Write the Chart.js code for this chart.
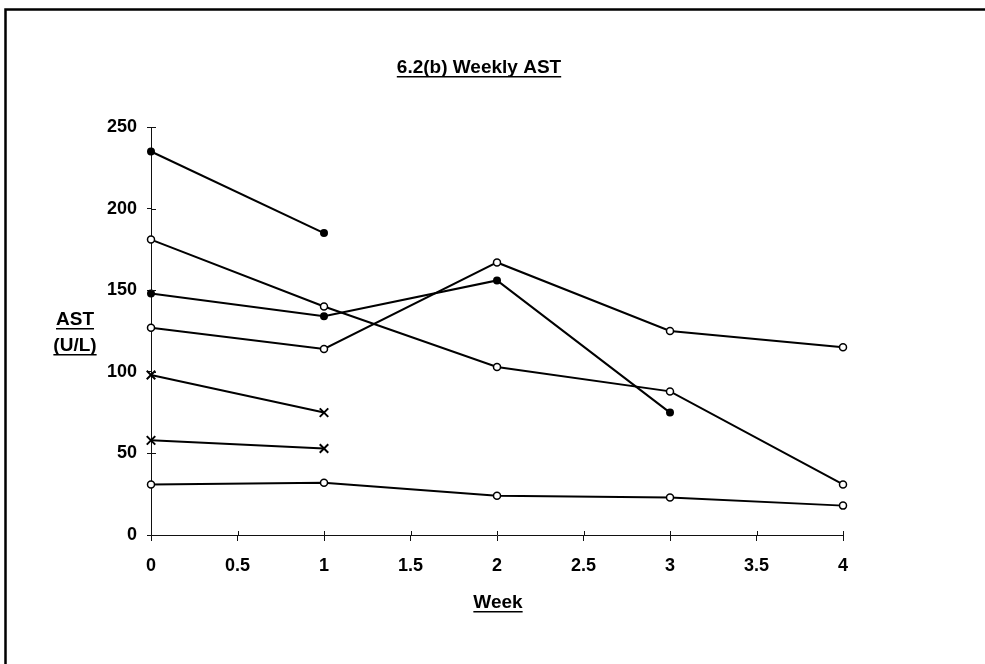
<!DOCTYPE html>
<html>
<head>
<meta charset="utf-8">
<script src="https://cdn.jsdelivr.net/npm/chart.js@4.4.1/dist/chart.umd.min.js"></script>
<style>
  html, body { margin: 0; padding: 0; background: #fff; }
  #wrap { width: 985px; height: 664px; position: relative; }
</style>
</head>
<body>
<div id="wrap"><canvas id="astChart"></canvas></div>
<script>
// Weeks on the x axis
const weeks = [0, 1, 2, 3, 4];

// One array per subject, null where no sample was taken
const subjA = [235, 185, null, null, null];
const subjB = [181, 140, 103, 88, 31];
const subjC = [148, 134, 156, 75, null];
const subjD = [127, 114, 167, 125, 115];
const subjE = [98, 75, null, null, null];
const subjF = [58, 53, null, null, null];
const subjG = [31, 32, 24, 23, 18];

const yTicks = [0, 50, 100, 150, 200, 250];
const xTicks = [0, 0.5, 1, 1.5, 2, 2.5, 3, 3.5, 4];

const FONT = '"Liberation Sans", Arial, sans-serif';

function toPoints(values) {
    return weeks
        .map((w, i) => ({ x: w, y: values[i] }))
        .filter(p => p.y !== null);
}

function series(values, style) {
    const open = style === 'open';
    const cross = style === 'cross';
    return {
        data: toPoints(values),
        showLine: true,
        clip: false,
        borderColor: '#000',
        borderWidth: 2,
        pointStyle: cross ? 'crossRot' : 'circle',
        pointRadius: open ? 3.5 : (cross ? 6 : 3),
        pointBorderWidth: open ? 1.5 : 2,
        pointBackgroundColor: open ? '#fff' : '#000',
        pointBorderColor: '#000',
    };
}

// Frame, titles and the inner half of the tick marks
const decorations = {
    id: 'decorations',
    afterDraw(chart) {
        const c = chart.ctx;
        const xs = chart.scales.x;
        const ys = chart.scales.y;
        c.save();

        // outer frame (runs off the right and bottom edges)
        c.strokeStyle = '#000';
        c.lineWidth = 2.5;
        c.strokeRect(5.5, 9.5, 1000, 700);

        // ticks poking into the plot
        c.lineWidth = 1;
        c.strokeStyle = '#111';
        c.beginPath();
        yTicks.forEach(v => {
            const py = Math.round(ys.getPixelForValue(v)) + 0.5;
            c.moveTo(xs.left, py);
            c.lineTo(xs.left + 5, py);
        });
        xTicks.forEach(v => {
            const px = Math.round(xs.getPixelForValue(v)) + 0.5;
            c.moveTo(px, ys.bottom);
            c.lineTo(px, ys.bottom - 4);
        });
        c.stroke();

        // underlined bold text
        c.fillStyle = '#000';
        c.textAlign = 'center';
        c.textBaseline = 'alphabetic';
        c.font = 'bold 19px ' + FONT;
        const under = (txt, cx, base) => {
            c.fillText(txt, cx, base);
            const w = c.measureText(txt).width;
            c.fillRect(cx - w / 2, base + 3, w, 1.5);
        };
        under('6.2(b) Weekly AST', 479, 73);
        under('AST', 75, 325);
        under('(U/L)', 75, 351);
        under('Week', 498, 608);
        c.restore();
    }
};

new Chart(document.getElementById('astChart'), {
    type: 'scatter',
    data: {
        datasets: [
            series(subjA, 'filled'),
            series(subjB, 'open'),
            series(subjC, 'filled'),
            series(subjD, 'open'),
            series(subjE, 'cross'),
            series(subjF, 'cross'),
            series(subjG, 'open'),
        ]
    },
    options: {
        responsive: true,
        maintainAspectRatio: false,
        animation: false,
        layout: { padding: { left: 0, top: 127, right: 142, bottom: 0 } },
        plugins: {
            legend: { display: false },
            tooltip: { enabled: false },
        },
        scales: {
            x: {
                type: 'linear',
                min: 0,
                max: 4,
                afterFit: s => { s.height = 129; },
                afterBuildTicks: s => { s.ticks = xTicks.map(v => ({ value: v })); },
                grid: { drawOnChartArea: false, tickLength: 6, color: '#111' },
                border: { color: '#111', width: 1 },
                ticks: {
                    color: '#000',
                    padding: 14,
                    maxRotation: 0,
                    callback: v => String(v),
                    font: { family: FONT, size: 18, weight: 'bold' },
                }
            },
            y: {
                min: 0,
                max: 250,
                afterFit: s => { s.width = 151; },
                afterBuildTicks: s => { s.ticks = yTicks.map(v => ({ value: v })); },
                grid: { drawOnChartArea: false, tickLength: 4, color: '#111' },
                border: { color: '#111', width: 1 },
                ticks: {
                    color: '#000',
                    padding: 10,
                    callback: v => String(v),
                    font: { family: FONT, size: 18, weight: 'bold' },
                }
            }
        }
    },
    plugins: [decorations]
});
</script>
</body>
</html>
